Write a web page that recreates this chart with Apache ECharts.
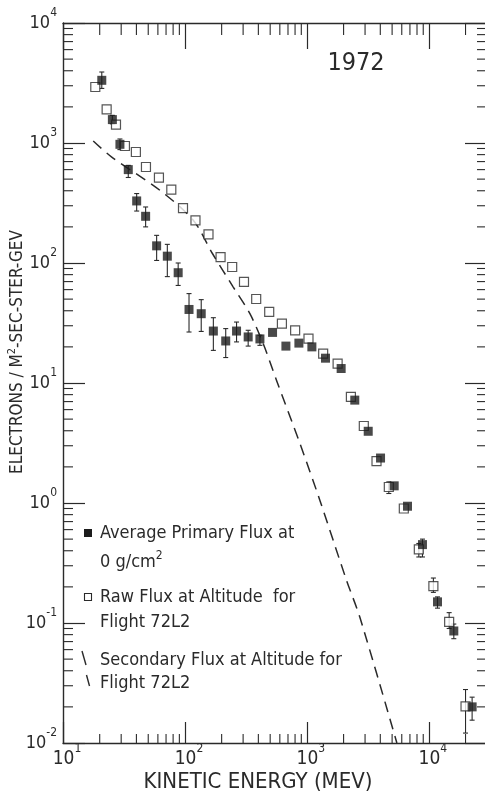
<!DOCTYPE html>
<html><head><meta charset="utf-8">
<script src="https://cdn.jsdelivr.net/npm/echarts@6/dist/echarts.min.js"></script>
<style>html,body{margin:0;padding:0;background:#fff}#c{width:485px;height:804px}</style>
</head><body><div id="c"></div>
<script>
const FONT = "'Liberation Sans Narrow','DejaVu Sans Condensed','Roboto Condensed','Liberation Sans',sans-serif";
const INK = '#2a2a2a';

// Average primary flux at 0 g/cm2 (filled squares)
const avgEnergy = [20.8, 25.4, 29.3, 34.3, 40.2, 47.6, 58.6, 71.7, 88, 108, 136, 171, 216, 265, 330, 412, 523, 673, 860, 1099, 1422, 1910, 2471, 3184, 4018, 5200, 6687, 8870, 11780, 16030, 22650];
const avgFlux   = [3330, 1567, 975, 600, 329, 245, 139, 114, 83, 41, 37.8, 27.1, 22.4, 27.1, 24.2, 23.3, 26.4, 20.3, 21.5, 20, 16.1, 13.2, 7.2, 3.96, 2.37, 1.39, 0.94, 0.45, 0.150, 0.0858, 0.020];
const avgErrLow = [2850, 1445, 881, 516, 271, 200, 105, 77, 65, 26.6, 26.9, 18.7, 16.3, 22, 20.3, 20.6, null, null, null, null, null, null, null, null, null, null, null, 0.355, 0.133, 0.074, 0.0155];
const avgErrHigh= [3905, 1700, 1080, 651, 379, 293, 170, 143, 100, 55.6, 49.5, 35, 28.4, 32.2, 27.5, 25, null, null, null, null, null, null, null, null, null, null, null, 0.50, 0.165, 0.098, 0.0241];

// Raw flux at altitude for flight 72L2 (open squares)
const rawEnergy = [18.4, 22.8, 27.2, 32.2, 39.6, 47.9, 61.2, 77.3, 96.4, 122, 156, 196, 244, 305, 384, 491, 624, 801, 1031, 1360, 1787, 2296, 2930, 3724, 4699, 6237, 8280, 10900, 14680, 20000];
const rawFlux   = [2930, 1909, 1423, 944, 841, 631, 515, 409, 287, 227, 173, 112, 92.6, 69.5, 50.1, 39.1, 31.3, 27.5, 23.4, 17.6, 14.5, 7.65, 4.38, 2.23, 1.36, 0.90, 0.41, 0.203, 0.102, 0.0202];
const rawErrLow = [null, null, null, null, null, null, null, null, null, null, null, null, null, null, null, null, null, null, null, null, null, null, null, null, 1.2, null, 0.355, 0.18, 0.09, 0.0121];
const rawErrHigh= [null, null, null, null, null, null, null, null, null, null, null, null, null, null, null, null, null, null, null, null, null, null, null, null, 1.5, null, 0.46, 0.237, 0.122, 0.0279];

// Secondary flux at altitude for flight 72L2 (dashed curve)
const secEnergy = [17.7, 25.1, 62.4, 117, 168, 249, 341, 438, 564, 877, 1279, 2113, 2716, 5470];
const secFlux   = [1040, 764, 403, 227, 120, 63, 37.8, 21.3, 10.5, 3.13, 1.05, 0.227, 0.112, 0.0100];

const xMin = 10, xMax = 30000, yMin = 0.01, yMax = 10000;
const xDecades = [10, 100, 1000, 10000];
const yDecades = [0.01, 0.1, 1, 10, 100, 1000];
const minorSteps = [2, 3, 4, 5, 6, 7, 8, 9];

const xMinor = [];
xDecades.forEach(d => minorSteps.forEach(m => { if (d * m < xMax) xMinor.push(d * m); }));
const yMinor = [];
yDecades.forEach(d => minorSteps.forEach(m => yMinor.push(d * m)));

function powLabel(v) {
  const e = Math.round(Math.log10(v));
  if (Math.abs(v / Math.pow(10, e) - 1) > 1e-6) return '';
  return '{b|10}{s|' + e + '}';
}

const labelRichY = {
  b: { fontSize: 18, lineHeight: 22, fontFamily: FONT, color: INK, align: 'right' },
  s: { fontSize: 12, lineHeight: 13, fontFamily: FONT, color: INK, align: 'right', padding: [0, 0, 20, 0] }
};
const labelRichX = {
  b: { fontSize: 19, lineHeight: 22, fontFamily: FONT, color: INK, padding: [0, 0, 0, 8] },
  s: { fontSize: 12, lineHeight: 13, fontFamily: FONT, color: INK, padding: [0, 0, 20, 0] }
};

const lineStyle = { color: INK, width: 1.4 };

function errorBarData(xs, lo, hi) {
  const out = [];
  xs.forEach((x, i) => { if (lo[i] != null && hi[i] != null) out.push([x, lo[i], hi[i]]); });
  return out;
}

function renderErr(params, api) {
  const x = api.value(0);
  const p1 = api.coord([x, api.value(1)]);
  const p2 = api.coord([x, api.value(2)]);
  const st = { stroke: INK, lineWidth: 1.1 };
  return { type: 'group', children: [
    { type: 'line', shape: { x1: p1[0], y1: p1[1], x2: p2[0], y2: p2[1] }, style: st },
    { type: 'line', shape: { x1: p1[0] - 2.5, y1: p1[1], x2: p1[0] + 2.5, y2: p1[1] }, style: st },
    { type: 'line', shape: { x1: p2[0] - 2.5, y1: p2[1], x2: p2[0] + 2.5, y2: p2[1] }, style: st }
  ]};
}

const chart = echarts.init(document.getElementById('c'), null, { renderer: 'canvas' });
chart.setOption({
  backgroundColor: '#fff',
  animation: false,
  grid: { left: 63, right: -2, top: 23, bottom: 61, containLabel: false, outerBoundsMode: 'none' },
  xAxis: [
    { type: 'log', logBase: 10, min: xMin, max: xMax, position: 'bottom',
      axisLine: { show: true, lineStyle: lineStyle },
      axisTick: { show: true, inside: true, length: 21, lineStyle: { color: INK, width: 1.2 } },
      axisLabel: { formatter: powLabel, rich: labelRichX, verticalAlign: 'middle', margin: 16 },
      splitLine: { show: false },
      name: 'KINETIC ENERGY (MEV)', nameLocation: 'middle', nameGap: 28, nameMoveOverlap: false,
      nameTextStyle: { fontSize: 22, fontFamily: FONT, color: INK, verticalAlign: 'top', padding: [0, 34, 0, 0] } },
    { type: 'log', logBase: 10, min: xMin, max: xMax, position: 'top',
      axisLine: { show: true, lineStyle: lineStyle },
      axisTick: { show: true, inside: true, length: 26, lineStyle: { color: INK, width: 1.2 } },
      axisLabel: { show: false }, splitLine: { show: false } }
  ],
  yAxis: [
    { type: 'log', logBase: 10, min: yMin, max: yMax, position: 'left',
      axisLine: { show: true, lineStyle: lineStyle },
      axisTick: { show: true, inside: true, length: 22, lineStyle: { color: INK, width: 1.2 } },
      axisLabel: { formatter: powLabel, rich: labelRichY, margin: 6 },
      splitLine: { show: false },
      name: 'ELECTRONS / M{s|2}-SEC-STER-GEV', nameLocation: 'middle', nameGap: 35, nameMoveOverlap: false,
      nameTextStyle: { fontSize: 17, fontFamily: FONT, color: INK, padding: [0, 0, 0, 62],
        rich: { s: { fontSize: 11, fontFamily: FONT, color: INK, padding: [0, 0, 10, 0] } } } },
    { type: 'log', logBase: 10, min: yMin, max: yMax, position: 'right',
      axisLine: { show: true, lineStyle: lineStyle },
      axisTick: { show: true, inside: true, length: 22, lineStyle: { color: INK, width: 1.2 } },
      axisLabel: { show: false }, splitLine: { show: false } }
  ],
  series: [
    { type: 'custom', name: 'xminor', silent: true, clip: false, z: 1,
      data: xMinor.map(v => [v, 1]), encode: { x: 0, y: 1 },
      renderItem: (params, api) => {
        const cs = params.coordSys; const x = api.coord([api.value(0), 1])[0];
        const st = { stroke: INK, lineWidth: 1.1 };
        return { type: 'group', children: [
          { type: 'line', shape: { x1: x, y1: cs.y + cs.height, x2: x, y2: cs.y + cs.height - 9 }, style: st },
          { type: 'line', shape: { x1: x, y1: cs.y, x2: x, y2: cs.y + 12 }, style: st }
        ]};
      } },
    { type: 'custom', name: 'yminor', silent: true, clip: false, z: 1,
      data: yMinor.map(v => [100, v]), encode: { x: 0, y: 1 },
      renderItem: (params, api) => {
        const cs = params.coordSys; const y = api.coord([100, api.value(1)])[1];
        const st = { stroke: INK, lineWidth: 1.1 };
        return { type: 'group', children: [
          { type: 'line', shape: { x1: cs.x, y1: y, x2: cs.x + 10, y2: y }, style: st },
          { type: 'line', shape: { x1: cs.x + cs.width, y1: y, x2: cs.x + cs.width - 10, y2: y }, style: st }
        ]};
      } },
    { type: 'line', name: 'Secondary Flux', data: secEnergy.map((e, i) => [e, secFlux[i]]),
      showSymbol: false, symbol: 'none', smooth: 0.3, z: 2,
      lineStyle: { color: INK, width: 1.5, type: [11, 7] } },
    { type: 'custom', name: 'rawErr', z: 3, data: errorBarData(rawEnergy, rawErrLow, rawErrHigh),
      encode: { x: 0, y: [1, 2] }, renderItem: renderErr },
    { type: 'custom', name: 'avgErr', z: 3, data: errorBarData(avgEnergy, avgErrLow, avgErrHigh),
      encode: { x: 0, y: [1, 2] }, renderItem: renderErr },
    { type: 'scatter', name: 'Raw Flux', z: 4, symbol: 'rect', symbolSize: 9,
      data: rawEnergy.map((e, i) => [e, rawFlux[i]]),
      itemStyle: { color: '#fff', borderColor: INK, borderWidth: 1.2 } },
    { type: 'scatter', name: 'Average Primary Flux', z: 5, symbol: 'rect', symbolSize: 9,
      data: avgEnergy.map((e, i) => [e, avgFlux[i]]),
      itemStyle: { color: '#1c1c1c' } }
  ],
  graphic: [
    { type: 'text', x: 356, y: 63, style: { text: '1972', fontSize: 25, fontFamily: FONT, fill: INK, align: 'center', verticalAlign: 'middle' } },
    { type: 'rect', shape: { x: 84, y: 529, width: 8, height: 8 }, style: { fill: '#1c1c1c' } },
    { type: 'text', x: 100, y: 533, style: { text: 'Average Primary Flux at', fontSize: 18, fontFamily: FONT, fill: INK, verticalAlign: 'middle' } },
    { type: 'text', x: 100, y: 562, style: { text: '0 g/cm{s|2}', fontSize: 18, fontFamily: FONT, fill: INK, verticalAlign: 'middle',
      rich: { s: { fontSize: 12, fontFamily: FONT, fill: INK, padding: [0, 0, 12, 0] } } } },
    { type: 'rect', shape: { x: 84.5, y: 593.5, width: 7, height: 7 }, style: { fill: '#fff', stroke: INK, lineWidth: 1.1 } },
    { type: 'text', x: 100, y: 597, style: { text: 'Raw Flux at Altitude  for', fontSize: 18, fontFamily: FONT, fill: INK, verticalAlign: 'middle' } },
    { type: 'text', x: 100, y: 622, style: { text: 'Flight 72L2', fontSize: 18, fontFamily: FONT, fill: INK, verticalAlign: 'middle' } },
    { type: 'line', shape: { x1: 82, y1: 651, x2: 86, y2: 665 }, style: { stroke: INK, lineWidth: 1.4 } },
    { type: 'line', shape: { x1: 86.5, y1: 675, x2: 89.5, y2: 686 }, style: { stroke: INK, lineWidth: 1.4 } },
    { type: 'text', x: 100, y: 660, style: { text: 'Secondary Flux at Altitude for', fontSize: 18, fontFamily: FONT, fill: INK, verticalAlign: 'middle' } },
    { type: 'text', x: 100, y: 683, style: { text: 'Flight 72L2', fontSize: 18, fontFamily: FONT, fill: INK, verticalAlign: 'middle' } }
  ]
});
</script>
</body></html>
